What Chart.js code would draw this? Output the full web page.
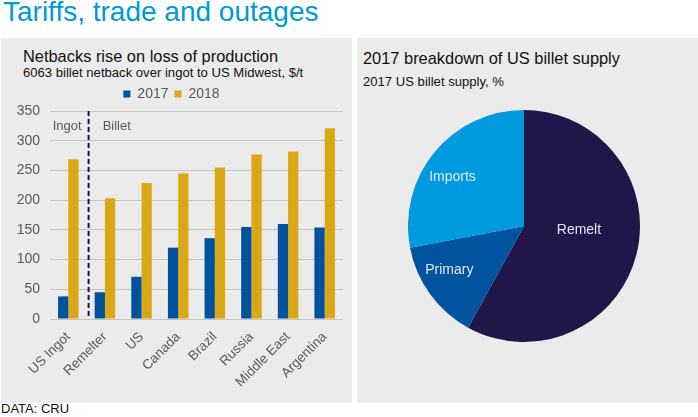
<!DOCTYPE html>
<html>
<head>
<meta charset="utf-8">
<script src="https://cdn.jsdelivr.net/npm/chart.js@4"></script>
<style>
  html, body { margin:0; padding:0; background:#ffffff; }
  body { width:698px; height:417px; position:relative; overflow:hidden; font-family:"Liberation Sans", Arial, sans-serif; }
  .abs { position:absolute; white-space:nowrap; }
  #mainTitle { left:3px; top:-2px; font-size:28px; line-height:28px; color:#0099da; }
  .panel { position:absolute; background:#ebebeb; top:38px; height:365px; }
  #pl { left:1px; width:351px; }
  #pr { left:357px; width:341px; }
  .t1 { font-size:16.4px; line-height:18px; color:#111; }
  .t2 { font-size:13.1px; line-height:15px; color:#111; }
  #src { left:1px; top:401px; font-size:13px; line-height:15px; color:#111; }
</style>
</head>
<body>
<div id="mainTitle" class="abs">Tariffs, trade and outages</div>
<div id="pl" class="panel"></div>
<div id="pr" class="panel"></div>
<div class="abs t1" style="left:23px;top:47px;">Netbacks rise on loss of production</div>
<div class="abs t2" style="left:23px;top:65px;">6063 billet netback over ingot to US Midwest, $/t</div>
<div class="abs t1" style="left:363px;top:49px;">2017 breakdown of US billet supply</div>
<div class="abs t2" style="left:363px;top:74px;">2017 US billet supply, %</div>
<div id="src" class="abs">DATA: CRU</div>

<div class="abs" style="left:0;top:77px;width:352px;height:326px;"><canvas id="bar"></canvas></div>
<div class="abs" style="left:408px;top:110px;width:232px;height:232px;"><canvas id="pie"></canvas></div>

<script>
// ---- data ----
const categories = ["US Ingot", "Remelter", "US", "Canada", "Brazil", "Russia", "Middle East", "Argentina"];
const values2017 = [38, 45, 71, 120, 136, 155, 160, 154];
const values2018 = [269, 203, 229, 245, 255, 277, 282, 321];
const seriesNames = ["2017", "2018"];
const yTicks = [0, 50, 100, 150, 200, 250, 300, 350];

const pieLabels = ["Remelt", "Primary", "Imports"];
const pieValues = [58, 14, 28];

// ---- styles ----
Chart.defaults.font.family = '"Liberation Sans", Arial, sans-serif';
Chart.defaults.color = '#595959';
Chart.defaults.animation = false;

const dividerPlugin = {
  id: 'divider',
  afterDatasetsDraw(chart) {
    const {ctx, scales:{x, y}} = chart;
    const xp = (x.getPixelForValue(0) + x.getPixelForValue(1)) / 2 + 2;
    ctx.save();
    ctx.strokeStyle = '#1f1a4a';
    ctx.lineWidth = 2;
    ctx.setLineDash([5, 3]);
    ctx.beginPath();
    ctx.moveTo(xp, y.getPixelForValue(350));
    ctx.lineTo(xp, y.getPixelForValue(0));
    ctx.stroke();
    ctx.setLineDash([]);
    ctx.fillStyle = '#595959';
    ctx.font = '13px "Liberation Sans", Arial, sans-serif';
    ctx.textBaseline = 'middle';
    const ty = y.getPixelForValue(324);
    ctx.textAlign = 'right';
    ctx.fillText('Ingot', xp - 7, ty);
    ctx.textAlign = 'left';
    ctx.fillText('Billet', xp + 14, ty);
    ctx.restore();
  }
};

new Chart(document.getElementById('bar'), {
  type: 'bar',
  data: {
    labels: categories,
    datasets: [
      { label: seriesNames[0], data: values2017, backgroundColor: '#00529c' },
      { label: seriesNames[1], data: values2018, backgroundColor: '#daa814' }
    ]
  },
  options: {
    responsive: true,
    maintainAspectRatio: false,
    layout: { padding: { top: 4, right: 9, left: 0, bottom: 0 } },
    categoryPercentage: 0.56,
    barPercentage: 1.0,
    plugins: {
      legend: {
        display: true,
        position: 'top',
        labels: { boxWidth: 7, boxHeight: 7, font: { size: 14 }, color: '#595959', padding: 6 }
      },
      tooltip: { enabled: false }
    },
    scales: {
      x: {
        grid: { display: false },
        border: { display: false },
        ticks: { maxRotation: 45, minRotation: 45, font: { size: 13.5 }, color: '#595959', padding: 2 },
        afterFit(s) { s.height = 84; }
      },
      y: {
        min: 0, max: 350,
        afterBuildTicks(s) { s.ticks = yTicks.map(v => ({ value: v })); },
        grid: { color: '#c4c4c4', drawTicks: false },
        border: { display: false },
        ticks: { font: { size: 14 }, color: '#595959', padding: 10 },
        afterFit(s) { s.width = 50; }
      }
    }
  },
  plugins: [dividerPlugin]
});

const pieLabelPlugin = {
  id: 'pieLabels',
  afterDatasetsDraw(chart) {
    const {ctx} = chart;
    const meta = chart.getDatasetMeta(0);
    const factors = [0.475, 0.746, 0.746];
    const angleShift = [-10, 5.7, -5.3].map(d => d * Math.PI / 180);
    ctx.save();
    ctx.fillStyle = '#e6e6f2';
    ctx.font = '14px "Liberation Sans", Arial, sans-serif';
    ctx.textAlign = 'center';
    ctx.textBaseline = 'middle';
    meta.data.forEach((arc, i) => {
      const p = arc.getProps(['x', 'y', 'startAngle', 'endAngle', 'outerRadius']);
      const a = (p.startAngle + p.endAngle) / 2 + angleShift[i];
      const r = p.outerRadius * factors[i];
      ctx.fillText(pieLabels[i], p.x + Math.cos(a) * r, p.y + Math.sin(a) * r);
    });
    ctx.restore();
  }
};

new Chart(document.getElementById('pie'), {
  type: 'pie',
  data: {
    labels: pieLabels,
    datasets: [{ data: pieValues, backgroundColor: ['#20164a', '#00539f', '#009bdf'], borderWidth: 0 }]
  },
  options: {
    responsive: true,
    maintainAspectRatio: false,
    layout: { padding: 0 },
    plugins: { legend: { display: false }, tooltip: { enabled: false } }
  },
  plugins: [pieLabelPlugin]
});
</script>
</body>
</html>
